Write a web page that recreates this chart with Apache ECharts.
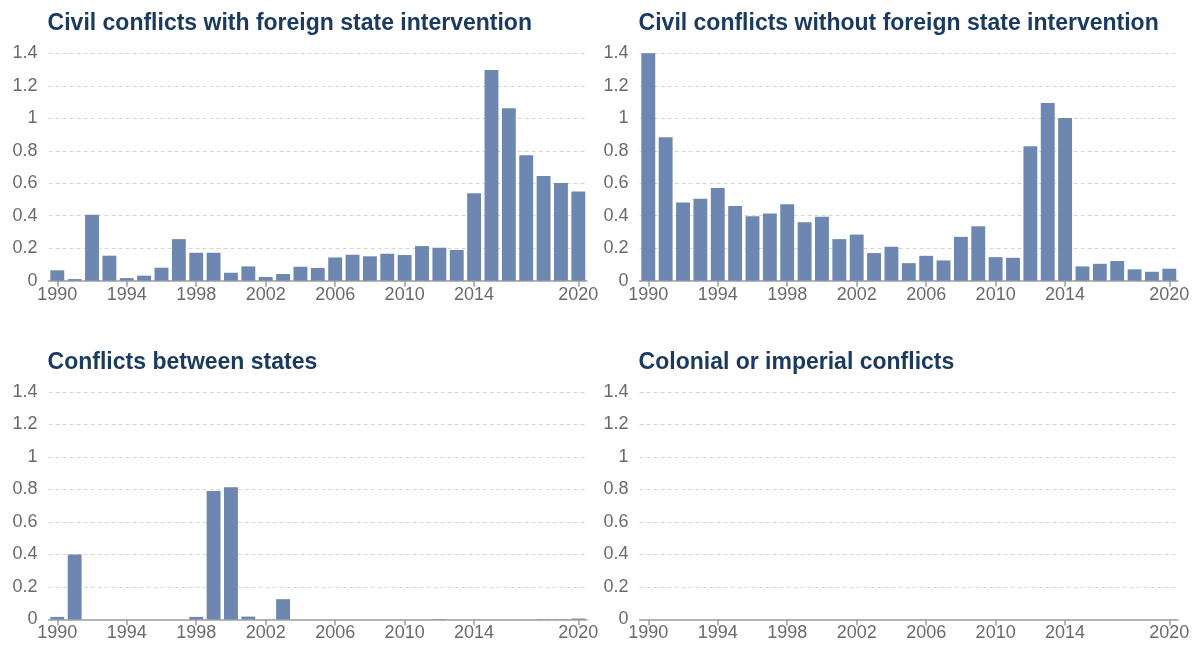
<!DOCTYPE html>
<html>
<head>
<meta charset="utf-8">
<script src="https://cdn.jsdelivr.net/npm/echarts@6/dist/echarts.min.js"></script>
<style>
html,body{margin:0;padding:0;background:#fff;}
#chart{width:1196px;height:646px;}
</style>
</head>
<body>
<div id="chart"></div>
<script>
const years = [];
for (let y = 1990; y <= 2020; y++) years.push(String(y));
const labelYears = ['1990','1994','1998','2002','2006','2010','2014','2020'];

const panelTitles = [
  'Civil conflicts with foreign state intervention',
  'Civil conflicts without foreign state intervention',
  'Conflicts between states',
  'Colonial or imperial conflicts'
];

const civilWithIntervention = [0.064,0.010,0.406,0.154,0.016,0.031,0.080,0.256,0.172,0.172,
  0.049,0.088,0.023,0.041,0.086,0.078,0.143,0.160,0.150,0.166,
  0.158,0.213,0.203,0.189,0.539,1.297,1.061,0.773,0.645,0.602,0.549];

const civilWithoutIntervention = [1.411,0.883,0.481,0.505,0.571,0.460,0.397,0.413,0.470,0.360,
  0.393,0.256,0.284,0.170,0.209,0.108,0.153,0.125,0.270,0.335,
  0.145,0.141,0.828,1.094,1.002,0.088,0.104,0.121,0.070,0.055,0.074];

const betweenStates = [0.016,0.400,0,0,0,0,0,0,0.016,0.791,
  0.814,0.018,0,0.125,0,0,0,0,0,0,
  0,0,0.003,0,0,0,0,0,0.002,0.002,0.006];

const colonialImperial = [0,0,0,0,0,0,0,0,0,0,
  0,0,0,0,0,0,0,0,0,0,
  0,0,0,0,0,0,0,0,0,0,0];

const seriesData = [civilWithIntervention, civilWithoutIntervention, betweenStates, colonialImperial];

const FONT = '"Liberation Sans", Arial, sans-serif';
const grids = [
  {left: 48.6, right: 609, top: 53.3, height: 227.4},
  {left: 639.6, right: 18, top: 53.3, height: 227.4},
  {left: 48.6, right: 609, top: 392, height: 227.5},
  {left: 639.6, right: 18, top: 392, height: 227.5}
];
const showYear = (i, v) => labelYears.indexOf(years[i]) >= 0;

const option = {
  animation: false,
  backgroundColor: '#ffffff',
  title: panelTitles.map((t, i) => ({
    text: t,
    left: grids[i].left - 1,
    top: grids[i].top - 41,
    padding: 0,
    textStyle: {fontFamily: FONT, fontSize: 23, fontWeight: 'bold', color: '#1b3a60'}
  })),
  grid: grids,
  xAxis: grids.map((g, i) => ({
    type: 'category',
    gridIndex: i,
    data: years,
    axisLine: {lineStyle: {color: '#a0a0a0', width: 1.5}},
    axisTick: {show: true, alignWithLabel: true, interval: showYear, length: 6, lineStyle: {color: '#a0a0a0', width: 1.5}},
    axisLabel: {interval: showYear, fontFamily: FONT, fontSize: 18, color: '#6a6a6a', margin: 5, hideOverlap: false}
  })),
  yAxis: grids.map((g, i) => ({
    type: 'value',
    gridIndex: i,
    min: 0, max: 1.4, interval: 0.2,
    axisLine: {show: false},
    axisTick: {show: false},
    axisLabel: {fontFamily: FONT, fontSize: 18, color: '#6a6a6a', margin: 11},
    splitLine: {show: true, lineStyle: {color: '#d6d6d6', type: [4, 3], width: 1}}
  })),
  series: seriesData.map((d, i) => ({
    type: 'bar',
    xAxisIndex: i,
    yAxisIndex: i,
    data: d,
    barCategoryGap: '20%',
    itemStyle: {color: '#6d87b1'}
  }))
};

const chart = echarts.init(document.getElementById('chart'), null, {renderer: 'canvas'});
chart.setOption(option);
</script>
</body>
</html>
